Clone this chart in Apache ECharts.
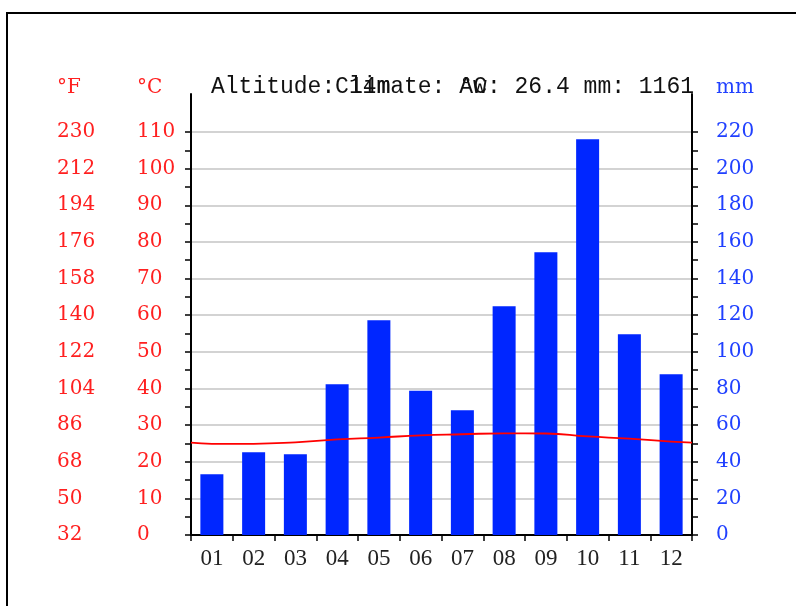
<!DOCTYPE html>
<html>
<head>
<meta charset="utf-8">
<script src="https://cdn.jsdelivr.net/npm/echarts@6/dist/echarts.min.js"></script>
<style>
html,body{margin:0;padding:0;background:#fff;}
#chart{width:796px;height:606px;}
</style>
</head>
<body>
<div id="chart"></div>
<script>
// Data
const months = ['01','02','03','04','05','06','07','08','09','10','11','12'];
const precipitationMm = [33.2, 45.2, 44.1, 82.3, 117.3, 78.8, 68.1, 124.9, 154.4, 216, 109.6, 87.8];
const temperatureC = [24.9, 24.9, 25.3, 26.1, 26.6, 27.2, 27.5, 27.75, 27.7, 26.9, 26.3, 25.5];
const headerLeft = 'Altitude: 14m';
const headerMid = 'Climate: Aw';
const headerRight = '°C: 26.4 mm: 1161';

// line wraps around the year: edge value is mean of Dec and Jan
const edgeT = (temperatureC[0] + temperatureC[11]) / 2;
const lineData = [[0, edgeT]].concat(temperatureC.map((t, i) => [i + 0.5, t]), [[12, edgeT]]);

const RED = '#ff2020';
const BLUE = '#2040ff';
const BAR = '#0026ff';
const labelFont = 'DejaVu Serif';

const chart = echarts.init(document.getElementById('chart'), null, {renderer: 'canvas'});
chart.setOption({
  animation: false,
  backgroundColor: '#fff',
  grid: [
    {left: 191, right: 104, top: 132, bottom: 71},
    {left: 191, right: 104, top: 94, bottom: 71}
  ],
  xAxis: [
    {
      type: 'category', gridIndex: 0, data: months, boundaryGap: true,
      axisLine: {show: true, lineStyle: {color: '#000', width: 2}},
      axisTick: {show: true, length: 6, lineStyle: {color: '#000', width: 1.5}},
      axisLabel: {color: '#222', fontFamily: 'Liberation Serif', fontSize: 23, margin: 12},
      splitLine: {show: false}
    },
    {type: 'value', gridIndex: 0, min: 0, max: 12, show: false},
    {type: 'category', gridIndex: 1, data: months, show: false}
  ],
  yAxis: [
    {
      type: 'value', gridIndex: 0, position: 'left', min: 0, max: 110, interval: 5,
      axisLine: {show: true, lineStyle: {color: '#000', width: 2}},
      axisTick: {show: true, length: 6, lineStyle: {color: '#000', width: 1.5}},
      axisLabel: {
        formatter: v => (v % 10 === 0 ? String(v) : ''),
        align: 'left', margin: 54, color: RED, fontFamily: labelFont, fontSize: 20,
        padding: [4, 0, 0, 0]
      },
      splitLine: {show: false}
    },
    {
      type: 'value', gridIndex: 0, position: 'left', min: 0, max: 110, interval: 10,
      axisLine: {show: false}, axisTick: {show: false},
      axisLabel: {
        formatter: v => String(Math.round(v * 9 / 5 + 32)),
        align: 'left', margin: 134, color: RED, fontFamily: labelFont, fontSize: 20,
        padding: [4, 0, 0, 0]
      },
      splitLine: {show: true, lineStyle: {color: '#c4c4c4', width: 1.5}}
    },
    {
      type: 'value', gridIndex: 0, position: 'right', min: 0, max: 220, interval: 10,
      axisLine: {show: true, lineStyle: {color: '#000', width: 2}},
      axisTick: {show: true, length: 6, lineStyle: {color: '#000', width: 1.5}},
      axisLabel: {
        formatter: v => (v % 20 === 0 ? String(v) : ''),
        align: 'left', margin: 24, color: BLUE, fontFamily: labelFont, fontSize: 20,
        padding: [4, 0, 0, 0]
      },
      splitLine: {show: false}
    },
    {
      type: 'value', gridIndex: 1, position: 'left', min: 0, max: 1,
      axisLine: {show: true, lineStyle: {color: '#000', width: 2}},
      axisTick: {show: false}, axisLabel: {show: false}, splitLine: {show: false}
    },
    {
      type: 'value', gridIndex: 1, position: 'right', min: 0, max: 1,
      axisLine: {show: true, lineStyle: {color: '#000', width: 2}},
      axisTick: {show: false}, axisLabel: {show: false}, splitLine: {show: false}
    }
  ],
  series: [
    {
      type: 'bar', xAxisIndex: 0, yAxisIndex: 2, data: precipitationMm,
      barWidth: 23, itemStyle: {color: BAR}, z: 2
    },
    {
      type: 'line', xAxisIndex: 1, yAxisIndex: 0, data: lineData,
      smooth: 0.5, showSymbol: false, symbol: 'none',
      lineStyle: {color: '#ff0000', width: 1.8}, z: 3
    }
  ],
  graphic: [
    {type: 'rect', shape: {x: 7, y: 13, width: 900, height: 700},
     style: {fill: 'none', stroke: '#000', lineWidth: 2}, silent: true},
    {type: 'text', left: 57, top: 78, style: {text: '°F', fill: RED, font: '20px "DejaVu Serif"'}},
    {type: 'text', left: 137, top: 78, style: {text: '°C', fill: RED, font: '20px "DejaVu Serif"'}},
    {type: 'text', left: 716, top: 78, style: {text: 'mm', fill: BLUE, font: '20px "DejaVu Serif"'}},
    {type: 'text', left: 211, top: 75, style: {text: headerLeft, fill: '#111', font: '23px "Liberation Mono"'}},
    {type: 'text', left: 335, top: 75, style: {text: headerMid, fill: '#111', font: '23px "Liberation Mono"'}},
    {type: 'text', right: 102, top: 75, style: {text: headerRight, fill: '#111', font: '23px "Liberation Mono"'}}
  ]
});
</script>
</body>
</html>
